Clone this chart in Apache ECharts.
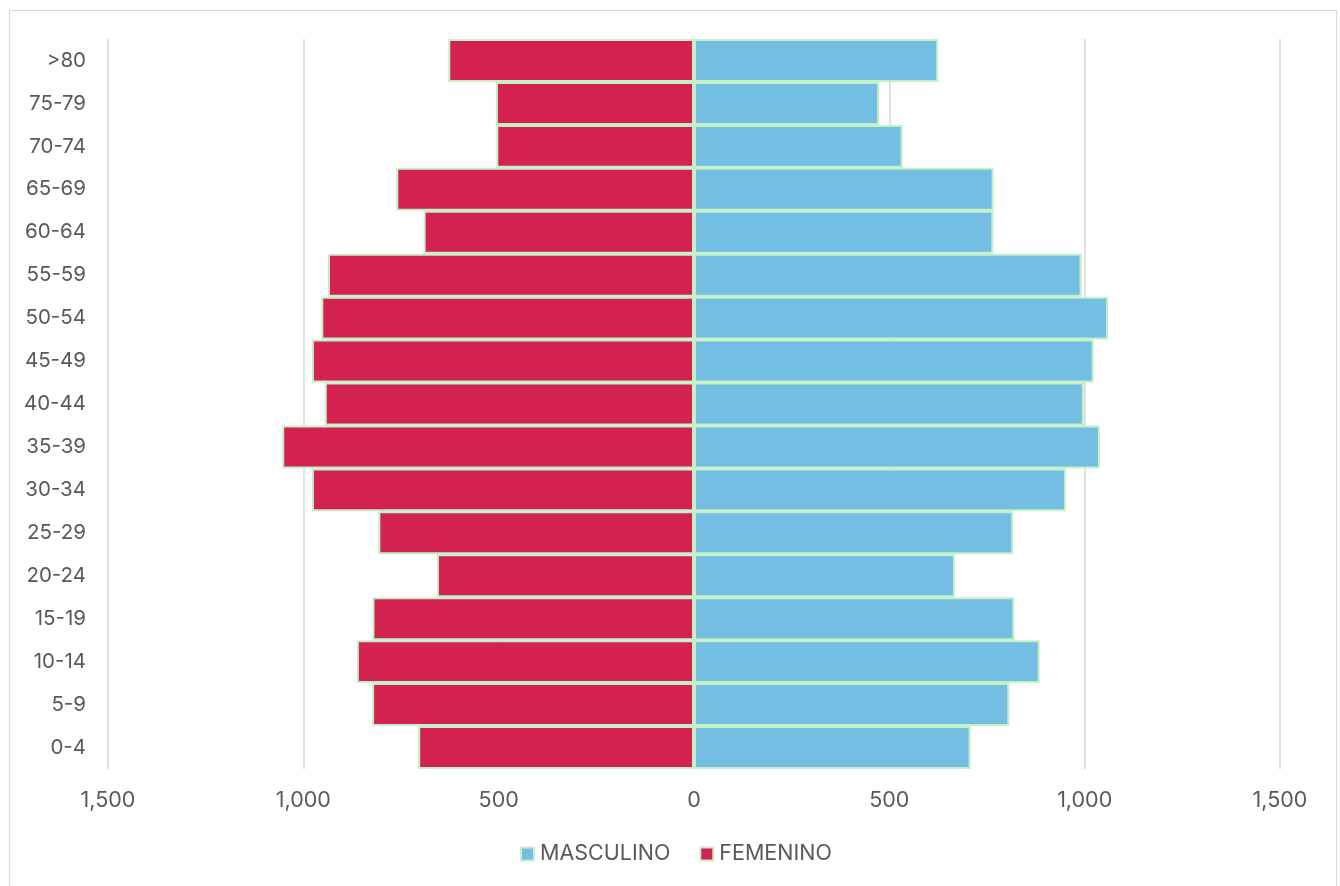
<!DOCTYPE html>
<html>
<head>
<meta charset="utf-8">
<script src="https://cdn.jsdelivr.net/npm/echarts@6/dist/echarts.min.js"></script>
<style>
  html, body { margin: 0; padding: 0; background: #ffffff; }
  #frame { position: absolute; left: 9px; top: 10px; width: 1328px; height: 890px; border: 1px solid #d9d9d9; box-sizing: border-box; }
  #chart { position: absolute; left: 0; top: 0; width: 1340px; height: 886px; }
</style>
</head>
<body>
<div id="frame"></div>
<div id="chart"></div>
<script>
// Age groups, bottom to top
const ageGroups = ['0-4', '5-9', '10-14', '15-19', '20-24', '25-29', '30-34', '35-39',
  '40-44', '45-49', '50-54', '55-59', '60-64', '65-69', '70-74', '75-79', '>80'];

// Population by sex per age group
const masculino = [708, 807, 885, 820, 668, 817, 952, 1039, 998, 1023, 1060, 992, 766, 767, 534, 474, 625];
const femenino  = [706, 824, 863, 823, 658, 808, 978, 1054, 945, 978, 954, 937, 692, 762, 506, 507, 629];

const textColor = '#595959';
const fontFamily = 'Inter, "Open Sans", sans-serif';
const fmt = v => Math.abs(v).toLocaleString('en-US');

const chart = echarts.init(document.getElementById('chart'));
chart.setOption({
  animation: false,
  textStyle: { fontFamily: fontFamily, color: textColor },
  grid: { left: 108, right: 60, top: 39, bottom: 117, containLabel: false },
  legend: {
    bottom: 16,
    left: 515,
    icon: 'rect',
    itemWidth: 13,
    itemHeight: 13,
    itemGap: 29,
    textStyle: { fontSize: 21.5, color: textColor, fontFamily: fontFamily, padding: [0, 0, 0, 1] },
    data: ['MASCULINO', 'FEMENINO']
  },
  xAxis: {
    type: 'value',
    min: -1500,
    max: 1500,
    interval: 500,
    axisLine: { show: false },
    axisTick: { show: false },
    axisLabel: { fontSize: 21.5, color: textColor, margin: 21, formatter: fmt },
    splitLine: { show: true, lineStyle: { color: '#d9d9d9', width: 1.5 } }
  },
  yAxis: {
    type: 'category',
    data: ageGroups,
    axisLine: { show: false },
    axisTick: { show: false },
    axisLabel: { fontSize: 20.5, color: textColor, margin: 22 }
  },
  series: [
    {
      name: 'MASCULINO',
      type: 'bar',
      stack: 'pop',
      barCategoryGap: '0%',
      data: masculino,
      itemStyle: { color: '#74bee4', borderColor: '#c4f0c8', borderWidth: 2 }
    },
    {
      name: 'FEMENINO',
      type: 'bar',
      stack: 'pop',
      barCategoryGap: '0%',
      data: femenino.map(v => -v),
      itemStyle: { color: '#d32250', borderColor: '#c4f0c8', borderWidth: 2 }
    }
  ]
});
</script>
</body>
</html>
